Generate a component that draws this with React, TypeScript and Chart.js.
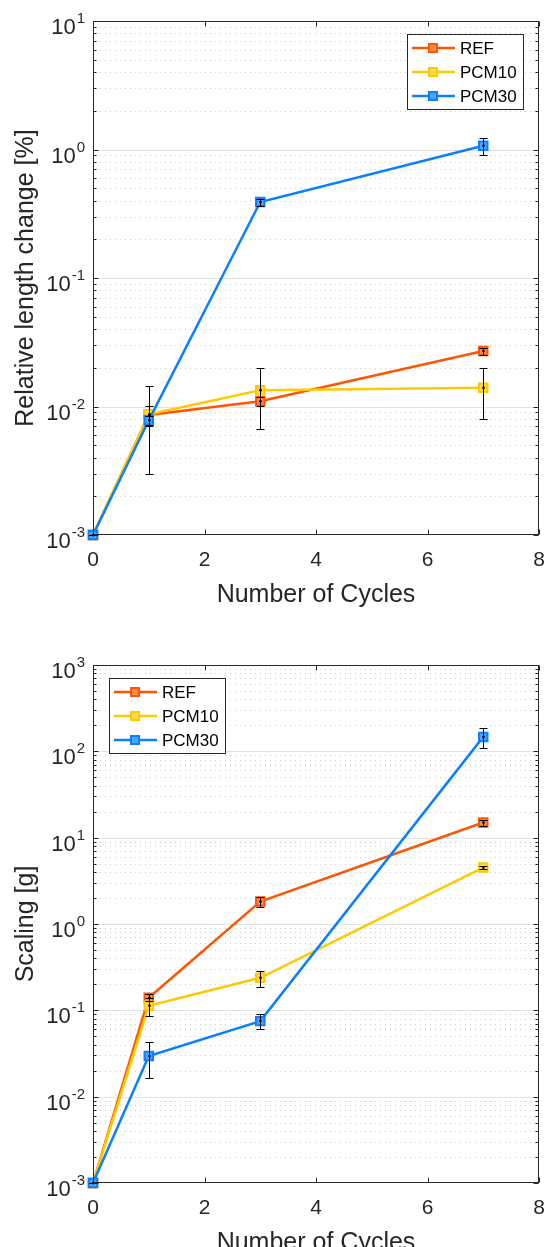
import React, { useEffect, useRef } from "react";
import { Chart, registerables } from "chart.js";

Chart.register(...registerables);

// ---------- data ----------
const cycles = [0, 1, 3, 7];
const seriesNames = ["REF", "PCM10", "PCM30"];
const seriesColors = ["#FF5500", "#FFC800", "#0A80FF"];
const markerFills = ["#FF8A50", "#FFDA50", "#4DA3FF"];

// Relative length change [%]
const lengthREF = [0.001, 0.0086, 0.011, 0.027];
const lengthPCM10 = [0.001, 0.0087, 0.0134, 0.014];
const lengthPCM30 = [0.001, 0.0078, 0.39, 1.07];
const lengthErrREF = [0, 0.0015, 0.0009, 0.0017];
const lengthErrPCM10 = [0, 0.0057, 0.0067, 0.006];
const lengthErrPCM30 = [0, 0.0006, 0.025, 0.16];

// Scaling [g]
const scalingREF = [0.001, 0.14, 1.82, 15.0];
const scalingPCM10 = [0.001, 0.113, 0.238, 4.5];
const scalingPCM30 = [0.001, 0.0295, 0.075, 147];
const scalingErrREF = [0, 0.013, 0.26, 1.2];
const scalingErrPCM10 = [0, 0.026, 0.05, 0.2];
const scalingErrPCM30 = [0, 0.013, 0.015, 37];

const xTicks = [0, 2, 4, 6, 8];
const lengthDecades = [-3, -2, -1, 0, 1];
const scalingDecades = [-3, -2, -1, 0, 1, 2, 3];

const xTitle = "Number of Cycles";
const lengthTitle = "Relative length change [%]";
const scalingTitle = "Scaling [g]";

const FONT = '"Liberation Sans", Arial, Helvetica, sans-serif';
const TEXT = "#262626";

// ---------- plugin ----------
const matlabPlugin: any = {
  id: "matlab",
  beforeDatasetsDraw(chart: any, _a: any, opts: any) {
    const { ctx, chartArea: a, scales } = chart;
    const y = scales.y;
    const decades: number[] = opts.decades;
    ctx.save();
    // minor grid (dotted)
    ctx.strokeStyle = "rgba(0,0,0,0.2)";
    ctx.lineWidth = 1;
    ctx.setLineDash([1, 4]);
    for (let i = 0; i < decades.length - 1; i++) {
      for (let m = 2; m <= 9; m++) {
        const py = Math.round(y.getPixelForValue(m * Math.pow(10, decades[i]))) + 0.5;
        ctx.beginPath();
        ctx.moveTo(a.left + 2, py);
        ctx.lineTo(a.right, py);
        ctx.stroke();
      }
    }
    ctx.setLineDash([]);
    ctx.strokeStyle = "#e2e2e2";
    for (let i = 1; i < decades.length - 1; i++) {
      const py = Math.round(y.getPixelForValue(Math.pow(10, decades[i]))) + 0.5;
      ctx.beginPath();
      ctx.moveTo(a.left, py);
      ctx.lineTo(a.right, py);
      ctx.stroke();
    }
    ctx.restore();
  },
  afterDatasetsDraw(chart: any, _a: any, opts: any) {
    const { ctx, chartArea: a, scales } = chart;
    const x = scales.x;
    const y = scales.y;
    const decades: number[] = opts.decades;
    ctx.save();

    // error bars
    ctx.strokeStyle = "#000";
    ctx.fillStyle = "#000";
    ctx.lineWidth = 1;
    chart.data.datasets.forEach((ds: any, i: number) => {
      const err: number[] = opts.errors[i];
      ds.data.forEach((p: any, j: number) => {
        const px = Math.round(x.getPixelForValue(p.x)) + 0.5;
        const lo = Math.max(p.y - err[j], y.min);
        const hi = p.y + err[j];
        const yl = Math.round(y.getPixelForValue(lo)) + 0.5;
        const yh = Math.round(y.getPixelForValue(hi)) + 0.5;
        ctx.beginPath();
        ctx.moveTo(px, yl);
        ctx.lineTo(px, yh);
        ctx.moveTo(px - 4, yl);
        ctx.lineTo(px + 4, yl);
        ctx.moveTo(px - 4, yh);
        ctx.lineTo(px + 4, yh);
        ctx.stroke();
        ctx.beginPath();
        ctx.arc(px, y.getPixelForValue(p.y), 1.3, 0, Math.PI * 2);
        ctx.fill();
      });
    });

    // axes box
    ctx.strokeStyle = TEXT;
    ctx.lineWidth = 1;
    const L = Math.round(a.left) + 0.5;
    const R = Math.round(a.right) - 0.5;
    const T = Math.round(a.top) + 0.5;
    const B = Math.round(a.bottom) - 0.5;
    ctx.strokeRect(L, T, R - L, B - T);

    // ticks
    ctx.beginPath();
    xTicks.forEach((t) => {
      const px = Math.round(x.getPixelForValue(t)) + 0.5;
      ctx.moveTo(px, B);
      ctx.lineTo(px, B - 5);
      ctx.moveTo(px, T);
      ctx.lineTo(px, T + 5);
    });
    decades.forEach((d, i) => {
      const py = Math.round(y.getPixelForValue(Math.pow(10, d))) + 0.5;
      ctx.moveTo(L, py);
      ctx.lineTo(L + 5, py);
      ctx.moveTo(R, py);
      ctx.lineTo(R - 5, py);
      if (i < decades.length - 1) {
        for (let m = 2; m <= 9; m++) {
          const my = Math.round(y.getPixelForValue(m * Math.pow(10, d))) + 0.5;
          ctx.moveTo(L, my);
          ctx.lineTo(L + 3, my);
          ctx.moveTo(R, my);
          ctx.lineTo(R - 3, my);
        }
      }
    });
    ctx.stroke();

    // x tick labels
    ctx.fillStyle = TEXT;
    ctx.font = `21px ${FONT}`;
    ctx.textAlign = "center";
    ctx.textBaseline = "alphabetic";
    xTicks.forEach((t) => {
      ctx.fillText(String(t), x.getPixelForValue(t), a.bottom + 31);
    });

    // y tick labels 10^d
    decades.forEach((d) => {
      const py = y.getPixelForValue(Math.pow(10, d));
      const sup = String(d);
      ctx.font = `15px ${FONT}`;
      const sw = ctx.measureText(sup).width;
      ctx.textAlign = "right";
      const right = a.left - 8;
      ctx.fillText(sup, right, py + 2);
      ctx.font = `22px ${FONT}`;
      ctx.fillText("10", right - sw - 1, py + 13);
    });

    // x title
    ctx.font = `25px ${FONT}`;
    ctx.textAlign = "center";
    ctx.fillText(xTitle, (a.left + a.right) / 2, a.bottom + 67);

    // y title
    ctx.save();
    ctx.translate(33, (a.top + a.bottom) / 2);
    ctx.rotate(-Math.PI / 2);
    ctx.fillText(opts.yTitle, 0, 0);
    ctx.restore();

    // legend
    const lw = 116;
    const lh = 75;
    const lx = opts.legendSide === "right" ? Math.round(a.right) - 16 - lw : Math.round(a.left) + 16;
    const ly = Math.round(a.top) + 13;
    ctx.fillStyle = "#fff";
    ctx.fillRect(lx, ly, lw, lh);
    ctx.strokeStyle = TEXT;
    ctx.lineWidth = 1;
    ctx.strokeRect(lx + 0.5, ly + 0.5, lw, lh);
    seriesNames.forEach((name, i) => {
      const ry = ly + 14 + i * 24;
      ctx.strokeStyle = seriesColors[i];
      ctx.lineWidth = 2.5;
      ctx.beginPath();
      ctx.moveTo(lx + 5, ry);
      ctx.lineTo(lx + 48, ry);
      ctx.stroke();
      ctx.fillStyle = markerFills[i];
      ctx.lineWidth = 2;
      ctx.fillRect(lx + 22, ry - 4, 8, 8);
      ctx.strokeRect(lx + 22, ry - 4, 8, 8);
      ctx.fillStyle = "#000";
      ctx.font = `17px ${FONT}`;
      ctx.textAlign = "left";
      ctx.textBaseline = "middle";
      ctx.fillText(name, lx + 53, ry + 1);
    });

    ctx.restore();
  },
};

type PanelProps = {
  width: number;
  height: number;
  padding: { left: number; right: number; top: number; bottom: number };
  series: number[][];
  errors: number[][];
  decades: number[];
  yTitle: string;
  legendSide: "left" | "right";
};

function Panel(props: PanelProps) {
  const ref = useRef<HTMLCanvasElement | null>(null);
  useEffect(() => {
    if (!ref.current) return;
    const { series, errors, decades, yTitle, legendSide, padding } = props;
    const datasets = series.map((vals, i) => ({
      label: seriesNames[i],
      data: cycles.map((c, j) => ({ x: c, y: vals[j] })),
      borderColor: seriesColors[i],
      backgroundColor: seriesColors[i],
      borderWidth: 2.5,
      pointStyle: "rect",
      pointRadius: 6,
      pointBorderWidth: 2,
      pointBorderColor: seriesColors[i],
      pointBackgroundColor: markerFills[i],
      tension: 0,
      clip: false,
      order: series.length - i,
    }));
    const chart = new Chart(ref.current, {
      type: "line",
      data: { datasets } as any,
      options: {
        responsive: false,
        animation: false,
        devicePixelRatio: 1,
        layout: { padding },
        scales: {
          x: { type: "linear", min: 0, max: 8, display: false },
          y: {
            type: "logarithmic",
            min: Math.pow(10, decades[0]),
            max: Math.pow(10, decades[decades.length - 1]),
            display: false,
          },
        },
        plugins: {
          legend: { display: false },
          tooltip: { enabled: false },
          matlab: { errors, decades, yTitle, legendSide },
        } as any,
      },
      plugins: [matlabPlugin],
    });
    return () => chart.destroy();
  }, []);
  return (
    <canvas
      ref={ref}
      width={props.width}
      height={props.height}
      style={{ display: "block", width: props.width, height: props.height }}
    />
  );
}

export default function App() {
  return (
    <div style={{ position: "absolute", left: 0, top: 0, width: 549, background: "#fff" }}>
      <Panel
        width={549}
        height={620}
        padding={{ left: 93, right: 10, top: 21, bottom: 85 }}
        series={[lengthREF, lengthPCM10, lengthPCM30]}
        errors={[lengthErrREF, lengthErrPCM10, lengthErrPCM30]}
        decades={lengthDecades}
        yTitle={lengthTitle}
        legendSide="right"
      />
      <Panel
        width={549}
        height={627}
        padding={{ left: 93, right: 10, top: 45, bottom: 64 }}
        series={[scalingREF, scalingPCM10, scalingPCM30]}
        errors={[scalingErrREF, scalingErrPCM10, scalingErrPCM30]}
        decades={scalingDecades}
        yTitle={scalingTitle}
        legendSide="left"
      />
    </div>
  );
}
